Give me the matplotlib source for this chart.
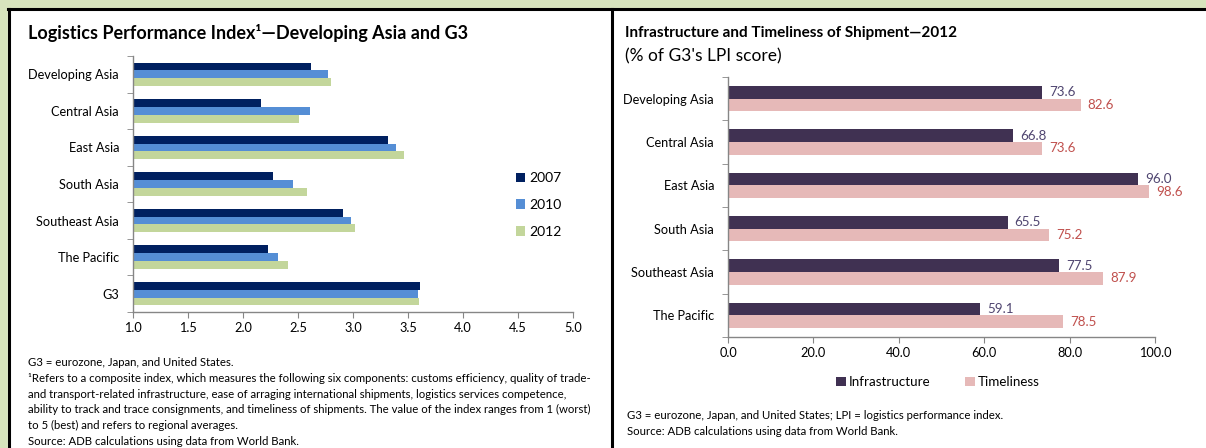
import numpy as np
import matplotlib
matplotlib.use("Agg")
import matplotlib.pyplot as plt
from matplotlib.patches import Rectangle
from matplotlib.lines import Line2D

plt.rcParams['font.family'] = ['Lato', 'DejaVu Sans']

# left chart: LPI scores
regions_lpi = ['Developing Asia', 'Central Asia', 'East Asia', 'South Asia',
               'Southeast Asia', 'The Pacific', 'G3']
lpi_2007 = [2.62, 2.16, 3.32, 2.27, 2.91, 2.23, 3.61]
lpi_2010 = [2.77, 2.61, 3.39, 2.45, 2.98, 2.32, 3.59]
lpi_2012 = [2.80, 2.51, 3.46, 2.58, 3.02, 2.41, 3.60]
years = ['2007', '2010', '2012']

# right chart: % of G3 score, 2012
regions_pct = ['Developing Asia', 'Central Asia', 'East Asia', 'South Asia',
               'Southeast Asia', 'The Pacific']
infrastructure = [73.6, 66.8, 96.0, 65.5, 77.5, 59.1]
timeliness = [82.6, 73.6, 98.6, 75.2, 87.9, 78.5]

W, H = 1206, 448
fig = plt.figure(figsize=(W / 100, H / 100), dpi=100)

# background / frame
fig.patches.append(Rectangle((0, 0), 1, 1, transform=fig.transFigure, color='#d7e4bd', zorder=-10))
fig.patches.append(Rectangle((8 / W, 0), 1, 1 - 9 / H, transform=fig.transFigure, color='white', zorder=-9))
fig.add_artist(Line2D([8 / W, 1], [1 - 9.5 / H] * 2, color='black', lw=2.2))
fig.add_artist(Line2D([8.5 / W] * 2, [0, 1 - 9 / H], color='black', lw=2.2))
fig.add_artist(Line2D([612 / W] * 2, [0, 1 - 9 / H], color='black', lw=2.2))

axis_grey = '#868686'


def style_axis(ax):
    for s in ['top', 'right']:
        ax.spines[s].set_visible(False)
    for s in ['left', 'bottom']:
        ax.spines[s].set_color(axis_grey)
        ax.spines[s].set_linewidth(1.0)
    ax.tick_params(axis='x', colors=axis_grey, labelcolor='black', length=4, labelsize=9.2)
    ax.tick_params(axis='y', which='major', length=0, labelsize=9.2, pad=10)
    ax.tick_params(axis='y', which='minor', colors=axis_grey, length=4)


# ---- left chart
ax1 = fig.add_axes([133 / W, 1 - 312 / H, (573 - 133) / W, (312 - 56) / H])
n = len(regions_lpi)
y = np.arange(n)
h = 0.213
cols = ['#002060', '#558ed5', '#c3d69b']
for i, (vals, c) in enumerate(zip([lpi_2007, lpi_2010, lpi_2012], cols)):
    ax1.barh(y + (i - 1) * h, vals, height=h, color=c, label=years[i])
ax1.set_xlim(1, 5)
ax1.set_ylim(n - 0.5, -0.5)
ax1.set_xticks(np.arange(1, 5.01, 0.5))
ax1.set_xticklabels(['%.1f' % v for v in np.arange(1, 5.01, 0.5)])
ax1.set_yticks(y)
ax1.set_yticklabels(regions_lpi)
ax1.set_yticks(np.arange(-0.5, n, 1), minor=True)
style_axis(ax1)
ax1.legend(loc='center left', bbox_to_anchor=(503 / W, 1 - 205 / H), bbox_transform=fig.transFigure,
           frameon=False, fontsize=10, handlelength=0.7, handleheight=0.7, handletextpad=0.3,
           labelspacing=1.05)

fig.text(28 / W, 1 - 33 / H, 'Logistics Performance Index\u00b9\u2014Developing Asia and G3',
         fontsize=13, fontweight='bold', va='center')

notes_left = [
    'G3 = eurozone, Japan, and United States.',
    '\u00b9Refers to a composite index, which measures the following six components: customs efficiency, quality of trade-',
    'and transport-related infrastructure, ease of arraging international shipments, logistics services competence,',
    'ability to track and trace consignments, and timeliness of shipments. The value of the index ranges from 1 (worst)',
    'to 5 (best) and refers to regional averages.',
    'Source: ADB calculations using data from World Bank.',
]
for k, line in enumerate(notes_left):
    fig.text(28 / W, 1 - (363 + k * 15.6) / H, line, fontsize=8.2, va='center')

# ---- right chart
ax2 = fig.add_axes([728 / W, 1 - 337 / H, (1155 - 728) / W, (337 - 77) / H])
m = len(regions_pct)
y2 = np.arange(m)
h2 = 0.29
b1 = ax2.barh(y2 - h2 / 2, infrastructure, height=h2, color='#403152', label='Infrastructure')
b2 = ax2.barh(y2 + h2 / 2, timeliness, height=h2, color='#e6b9b8', label='Timeliness')
ax2.bar_label(b1, fmt='%.1f', padding=5, color='#4f4570', fontsize=9.6)
ax2.bar_label(b2, fmt='%.1f', padding=5, color='#c0504d', fontsize=9.6)
ax2.set_xlim(0, 100)
ax2.set_ylim(m - 0.5, -0.5)
ax2.set_xticks(np.arange(0, 101, 20))
ax2.set_xticklabels(['%.1f' % v for v in np.arange(0, 101, 20)])
ax2.set_yticks(y2)
ax2.set_yticklabels(regions_pct)
ax2.set_yticks(np.arange(-0.5, m, 1), minor=True)
style_axis(ax2)
ax2.legend(loc='center', bbox_to_anchor=(938 / W, 1 - 382 / H), bbox_transform=fig.transFigure,
           ncol=2, frameon=False, fontsize=9.6, handlelength=0.7, handleheight=0.7,
           handletextpad=0.25, columnspacing=2.6)

fig.text(625 / W, 1 - 33 / H, 'Infrastructure and Timeliness of Shipment\u20142012',
         fontsize=11, fontweight='bold', va='center')
fig.text(625 / W, 1 - 56 / H, "(% of G3's LPI score)", fontsize=12.5, va='center')

notes_right = [
    'G3 = eurozone, Japan, and United States; LPI = logistics performance index.',
    'Source: ADB calculations using data from World Bank.',
]
for k, line in enumerate(notes_right):
    fig.text(627 / W, 1 - (415 + k * 16) / H, line, fontsize=8.2, va='center')

fig.savefig('out.png', dpi=100)
